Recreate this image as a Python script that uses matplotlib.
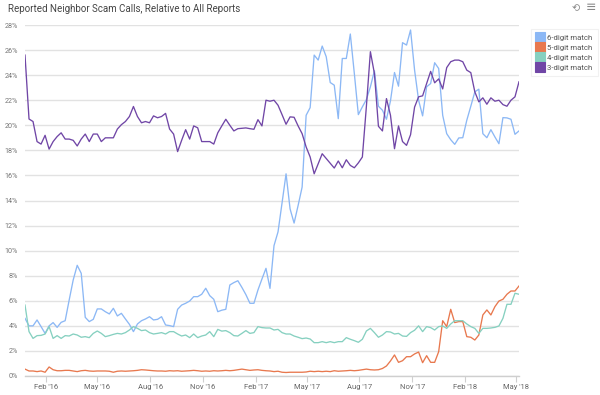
import matplotlib
matplotlib.use("Agg")
import matplotlib.pyplot as plt
from matplotlib.lines import Line2D
import pandas as pd

dates = pd.date_range("2015-12-27", periods=124, freq="7D")

six_digit = [4.6, 4.0, 4.0, 4.47, 3.94, 3.4, 4.0, 4.26, 3.88, 4.28, 4.41, 6.06, 7.66, 8.83, 8.19, 4.68,
             4.34, 4.52, 5.35, 5.35, 5.13, 4.95, 5.4, 4.79, 5.0, 4.55, 4.12, 3.54, 4.15, 4.41, 4.55, 4.73,
             4.47, 4.52, 4.73, 4.07, 4.02, 3.94, 5.32, 5.66, 5.8, 5.98, 6.33, 6.33, 6.52, 7.0, 6.41, 6.12,
             5.13, 5.25, 5.32, 7.26, 7.45, 7.6, 7.07, 6.49, 5.8, 5.8, 6.86, 7.74, 8.59, 6.99, 10.4, 11.5,
             13.8, 16.13, 13.33, 12.2, 13.6, 15.07, 20.8, 21.41, 25.6, 25.2, 26.32, 25.47, 23.41, 23.2, 20.53, 25.33,
             25.33, 27.28, 24.13, 20.85, 21.47, 22.05, 23.07, 24.35, 21.52, 21.2, 20.48, 21.95, 24.21, 23.12, 26.59, 26.4,
             27.6, 24.4, 22.0, 20.75, 23.07, 23.33, 24.99, 24.53, 20.8, 19.33, 18.85, 18.48, 18.99, 19.01, 20.4, 21.52,
             22.67, 22.88, 19.33, 19.01, 19.65, 19.07, 18.53, 20.61, 20.59, 20.48, 19.28, 19.55]

five_digit = [0.55, 0.4, 0.4, 0.35, 0.4, 0.3, 0.72, 0.5, 0.42, 0.42, 0.45, 0.45, 0.4, 0.35, 0.42, 0.45,
              0.4, 0.38, 0.4, 0.4, 0.4, 0.38, 0.3, 0.38, 0.4, 0.38, 0.4, 0.42, 0.45, 0.5, 0.48, 0.45,
              0.42, 0.4, 0.4, 0.38, 0.42, 0.4, 0.42, 0.38, 0.4, 0.42, 0.45, 0.42, 0.38, 0.4, 0.38, 0.42,
              0.4, 0.42, 0.45, 0.42, 0.45, 0.5, 0.55, 0.5, 0.45, 0.48, 0.5, 0.45, 0.42, 0.4, 0.35, 0.38,
              0.3, 0.28, 0.3, 0.3, 0.3, 0.3, 0.32, 0.38, 0.35, 0.38, 0.35, 0.38, 0.35, 0.42, 0.38, 0.4,
              0.42, 0.45, 0.42, 0.45, 0.5, 0.55, 0.5, 0.48, 0.5, 0.6, 0.8, 1.2, 1.68, 1.09, 1.22, 1.54,
              1.54, 1.76, 1.91, 1.06, 1.62, 1.09, 1.09, 1.94, 4.41, 3.94, 5.32, 4.26, 4.34, 4.34, 3.14, 3.09,
              2.87, 3.27, 4.87, 5.27, 4.87, 5.53, 5.98, 6.12, 6.52, 6.78, 6.78, 7.18]

four_digit = [5.66, 3.54, 3.0, 3.22, 3.24, 3.35, 3.94, 3.0, 3.22, 3.0, 3.22, 3.19, 3.35, 3.27, 3.09, 3.14,
              3.06, 3.4, 3.59, 3.4, 3.14, 3.22, 3.32, 3.4, 3.35, 3.46, 3.67, 3.94, 3.8, 3.62, 3.67, 3.46,
              3.35, 3.4, 3.46, 3.35, 3.54, 3.54, 3.35, 3.19, 3.27, 3.06, 3.35, 3.06, 3.19, 3.27, 3.54, 3.14,
              3.72, 3.58, 3.62, 3.46, 3.22, 3.19, 3.4, 3.62, 3.4, 3.46, 3.94, 3.86, 3.83, 3.83, 3.67, 3.72,
              3.46, 3.35, 3.35, 3.19, 3.09, 2.98, 3.03, 2.95, 2.66, 2.66, 2.74, 2.66, 2.74, 2.66, 2.74, 2.74,
              3.06, 2.93, 2.82, 2.69, 2.93, 3.59, 3.8, 3.46, 3.09, 3.27, 3.54, 3.51, 3.35, 3.4, 3.19, 3.16,
              3.46, 3.65, 4.0, 3.54, 3.94, 3.86, 3.67, 3.94, 3.99, 3.8, 4.15, 4.41, 4.41, 4.41, 4.15, 3.94,
              3.8, 3.4, 3.8, 3.8, 3.83, 3.88, 3.99, 4.6, 5.72, 5.72, 6.6, 6.52]

three_digit = [25.6, 20.5, 20.3, 18.7, 18.5, 19.2, 18.1, 18.7, 19.1, 19.4, 18.9, 18.9, 18.8, 18.35, 18.9, 19.3,
               18.7, 19.3, 19.3, 18.7, 19.0, 19.0, 19.0, 19.7, 20.05, 20.3, 20.7, 21.5, 20.7, 20.2, 20.3, 20.2,
               20.75, 20.6, 20.7, 20.95, 19.7, 19.3, 17.9, 18.8, 19.65, 18.9, 19.95, 19.8, 18.7, 18.7, 18.7, 18.5,
               19.4, 19.95, 20.48, 20.0, 19.55, 19.73, 19.76, 19.79, 19.73, 19.68, 20.45, 19.95, 22.0, 21.92, 22.0, 21.6,
               20.85, 20.08, 20.67, 20.64, 19.95, 19.33, 18.27, 17.47, 16.13, 16.93, 17.73, 17.35, 16.97, 16.59, 17.15, 16.61,
               17.25, 16.8, 16.61, 17.0, 17.47, 21.5, 25.87, 24.13, 19.92, 19.55, 22.13, 20.8, 18.13, 19.95, 18.7, 18.4,
               19.25, 21.45, 22.27, 22.35, 23.33, 24.3, 23.39, 23.7, 22.9, 24.6, 25.07, 25.2, 25.2, 25.07, 24.4, 24.2,
               22.67, 21.87, 22.19, 21.68, 22.19, 21.92, 22.0, 21.65, 21.52, 22.0, 22.27, 23.47]

series_names = ["6-digit match", "5-digit match", "4-digit match", "3-digit match"]
series_colors = ["#8cb8f5", "#e8784e", "#86d0c0", "#7046a6"]
y_ticks = list(range(0, 29, 2))
x_ticks = ["2016-02-01", "2016-05-01", "2016-08-01", "2016-11-01", "2017-02-01",
           "2017-05-01", "2017-08-01", "2017-11-01", "2018-02-01", "2018-05-01"]
title = "Reported Neighbor Scam Calls, Relative to All Reports"

plt.rcParams["font.family"] = ["Roboto", "DejaVu Sans"]

fig = plt.figure(figsize=(6.0, 3.95), dpi=100)
ax = fig.add_axes([25 / 600, 1 - 376 / 395, (519 - 25) / 600, (376 - 25) / 395])

for vals, name, col in zip([six_digit, five_digit, four_digit, three_digit], series_names, series_colors):
    ax.plot(dates, vals, color=col, lw=0.95, label=name, solid_joinstyle="round")

ax.set_ylim(0, 28)
ax.set_xlim(dates[0], dates[-1])
ax.set_yticks(y_ticks)
ax.set_yticklabels([f"{t}%" for t in y_ticks])
ax.grid(axis="y", color="#e2e2e2", lw=1.0)
ax.set_axisbelow(True)
for s in ["top", "right", "left"]:
    ax.spines[s].set_visible(False)
ax.spines["bottom"].set_color("#cfcfcf")
ax.spines["bottom"].set_linewidth(1.0)

xt = pd.to_datetime(x_ticks)
ax.set_xticks(xt)
ax.set_xticklabels([d.strftime("%b '%y") for d in xt])
ax.tick_params(axis="x", length=4, width=0.8, color="#cfcfcf", labelsize=5.5, labelcolor="#666666", pad=2)
ax.tick_params(axis="y", length=0, labelsize=5.2, labelcolor="#777777", pad=5)

fig.text(8 / 600, 1 - 9 / 395, title, fontsize=7.0, color="#444444", va="center", ha="left")
fig.text(576 / 600, 1 - 8 / 395, "\u27f2", fontsize=7, color="#888888", va="center", ha="center",
         family="DejaVu Sans")
fig.text(591 / 600, 1 - 8 / 395, "\u2261", fontsize=9, color="#888888", va="center", ha="center",
         family="DejaVu Sans")

handles = [Line2D([], [], ls="none", marker="s", markersize=6.5, markerfacecolor=c,
                  markeredgecolor=c, markeredgewidth=0.8) for c in series_colors]
leg = ax.legend(handles, series_names, loc="upper left", bbox_to_anchor=(527 / 600, 1 - 25 / 395),
                bbox_transform=fig.transFigure, frameon=True, fontsize=5.6, handlelength=1.0,
                borderpad=0.7, labelspacing=0.45, handletextpad=0.4, fancybox=False)
leg.get_frame().set_edgecolor("#eeeeee")
leg.get_frame().set_linewidth(0.8)
for txt in leg.get_texts():
    txt.set_color("#555555")

fig.savefig("out.png", dpi=100)
